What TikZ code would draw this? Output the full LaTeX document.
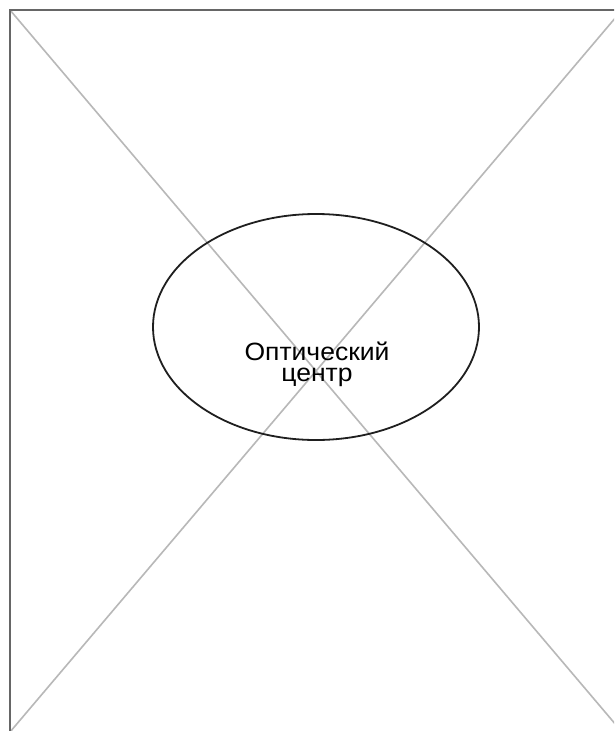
\documentclass[tikz,border=0pt]{standalone}
\usepackage{fontspec}
\setmainfont{Liberation Sans}
\usetikzlibrary{shapes.geometric}
\begin{document}
\begin{tikzpicture}[x=1pt,y=-1pt,
  frame/.style={draw=black!60, line width=2.6pt},
  diag/.style={draw=black!28, line width=1.6pt},
  lens/.style={ellipse, draw=black!88, line width=1.8pt, minimum width=326pt, minimum height=226pt, inner sep=0pt},
  lbl/.style={align=center, font=\fontsize{25}{21}\selectfont\addfontfeature{FakeStretch=1.06}, inner sep=0pt}]
\useasboundingbox (0,0) rectangle (614,731);
\clip (0,0) rectangle (614,731);
\fill[white] (0,0) rectangle (614,731);
\coordinate (tl) at (10,10);
\coordinate (tr) at (622,10);
\coordinate (bl) at (10,732);
\coordinate (br) at (622,732);
\draw[diag] (tl) -- (br);
\draw[diag] (tr) -- (bl);
\draw[frame] (bl) -- (tl) -- (tr) -- (br) -- cycle;
\node[lens] (e) at (316,327) {};
\node[lbl] (t) at (317,364) {Оптический\\центр};
\end{tikzpicture}
\end{document}
